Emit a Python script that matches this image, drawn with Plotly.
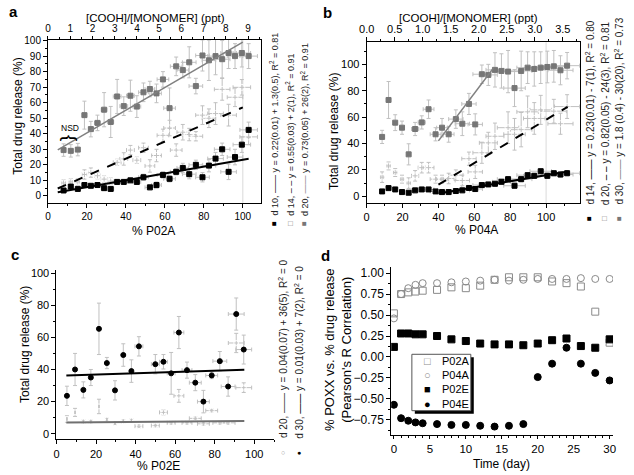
import plotly.graph_objects as go

W, H = 634, 475
FONT = "Liberation Sans, Arial, sans-serif"

# ---------------- Panel a data ----------------
a_x = [8, 11.7, 15.3, 18.7, 22, 25.4, 28.8, 32.2, 35.5, 38.9, 42.3, 45.6, 49, 52.3, 55.7,
       59, 62.4, 65.8, 69.2, 72.5, 75.9, 79.3, 82.6, 86, 89.4, 92.7, 96, 99.5, 103]
a_xerr = [1, 1, 1, 1.2, 1.2, 1.5, 1.5, 1.5, 2, 2, 2, 2, 2.5, 2.5, 2.5, 3, 3, 3, 3, 3.5,
          3.5, 3.5, 3.5, 4, 4, 4, 4, 4.5, 4.5]
a_d10 = [3.5, 6, 4.5, 7, 6.5, 7, 5, 4.5, 9, 9, 10, 9, 12, 5.5, 7, 13.5, 11, 15.5, 18, 14,
         20, 12, 19.5, 24, 30, 15.5, 25, 33, 42.5]
a_d10_err = [1, 1, 1, 1.5, 1, 1, 1.5, 1, 1.5, 1.5, 1.5, 1.5, 2, 1.5, 2, 2, 2, 2, 3, 3, 3,
             3, 4, 4, 4, 5, 5, 5, 5]
a_d14 = [8.3, 9, 9, 13.8, 15, 13, 10.8, 9.5, 21.6, 23.8, 29.5, 23, 31, 19.3, 26, 39, 43.7,
         29.5, 41, 39.5, 38.4, 52, 50, 53, 68.6, 52, 63.5, 69.9, 38]
a_d14_err = [2, 2, 2, 3, 3, 2, 2, 2, 2, 4, 3, 2, 3, 4, 4, 4, 5, 4, 5, 4, 3, 6, 6, 7, 7, 7,
             6, 5, 5]
a_d20 = [29.5, 29, 29.8, 52, 43, 47, 55.5, 47.6, 64, 57.8, 64.5, 57.5, 66.7, 68.8, 66, 75,
         56.5, 83.4, 81, 86, 70.7, 90.4, 87.3, 90, 88, 92, 90, 92, 90]
a_d20_err = [4, 4, 4, 9, 5, 5, 11, 10, 11, 6, 10, 7, 6, 5, 6, 5, 13, 6, 5, 10, 5, 10, 13,
             12, 12, 10, 8, 9, 8]
a_slope = [0.22, 0.55, 0.73]
a_icpt = [1.3, 2, 26]
a_fit_from = [5, 5, 5]
a_fit_to = [103, 100, 100]
a_labels = ["d 10, <span style='color:#000'>——</span> y = 0.22(0.01) + 1.3(0.5), R<sup>2</sup> = 0.81",
            "d 14, <span style='color:#000'>– –</span> y = 0.55(0.03) + 2(1), R<sup>2</sup> = 0.91",
            "d 20, <span style='color:#808080'>——</span> y = 0.73(0.05) + 26(2), R<sup>2</sup> = 0.91"]

# ---------------- Panel b data ----------------
b_x = [8.6, 12.2, 15.9, 19.7, 23.4, 27, 30.7, 34.5, 38.4, 42, 45.7, 49.7, 53.3, 57, 60.5,
       64.2, 67.8, 71.5, 75.1, 78.8, 82.4, 86.1, 89.7, 93.4, 97, 100.7, 104.3, 108, 111.7]
b_xerr = [1, 1, 1, 1, 1, 2, 2, 3, 3, 3, 3, 4, 4, 4, 4, 5, 5, 5, 5, 6, 6, 6, 6, 6, 6, 7, 7,
          7, 7]
b_d14 = [3.7, 6.2, 5.2, 3.2, 2.7, 4.5, 5.2, 5.2, 3.7, 3.2, 3.2, 4, 4.5, 6.3, 5.5, 8.5, 9,
         9.5, 11, 13, 8, 13, 16, 15.5, 19, 15.5, 17.5, 16.5, 17.5]
b_d14_err = [1, 1, 1, 1, 1, 1, 1, 1, 1, 1, 1, 1, 1, 1.5, 1.5, 1.5, 1.5, 2, 2, 2, 2, 2, 2, 2,
             2, 2, 2, 2, 2]
b_d20 = [14.5, 23, 18, 13, 10, 15.5, 21.7, 21.7, 13, 13, 13.5, 16, 12, 28.5, 18.5, 33, 40.5,
         45.5, None, 52, 47, 50.5, 64, 59, 65.5, None, 64.5, 55, 68]
b_d20_err = [4, 3, 3, 3, 4, 4, 4, 4, 3, 3, 4, 4, 4, 5, 5, 8, 8, 10, 0, 12, 12, 13, 12, 12,
             11, 0, 9, 8, 9]
b_d30 = [45, 73, 55.8, 52, 31.8, 51, 56, 66, 47, 52, 47, 58.5, 55, 70, 54.5, 92.5, 92, 95.8,
         95, 94.5, 82, 95, 97.5, 96.5, 97.5, 98, 98.5, 95.5, 99]
b_d30_err = [5, 14, 6, 5, 8, 5, 5, 7, 5, 7, 6, 7, 9, 8, 8, 7, 8, 13, 13, 16, 14, 15, 12, 13,
             12, 12, 12, 11, 10]
b_slope = [0.23, 0.82, 1.8]
b_icpt = [-7, -24, -30]
b_fit_from = [40, 40, 40]
b_fit_to = [112, 112, 71]
b_labels = ["d 14, <span style='color:#000'>——</span> y = 0.23(0.01) - 7(1), R<sup>2</sup> = 0.80",
            "d 20, <span style='color:#000'>– –</span> y = 0.82(0.05) - 24(3), R<sup>2</sup> = 0.81",
            "d 30, <span style='color:#808080'>——</span> y = 1.8 (0.4) - 30(20), R<sup>2</sup> = 0.73"]

# ---------------- Panel c data ----------------
c_x = [5.3, 9.4, 13.6, 17.4, 21.5, 25.5, 29.6, 33.8, 37.9, 41.7, 50, 54.1, 58, 61.9, 66,
       70.2, 74.3, 78.5, 82.6, 86.8, 90.9, 94.7]
c_xerr = [0, 0, 0, 0, 0, 0, 0, 0, 0, 2, 2, 2, 2, 2.5, 2.5, 3, 3, 3, 3.5, 3.5, 4, 4]
c_d20 = [9.2, 13.3, 7.6, 7.6, 17, 8.8, 6.6, 7.8, 8.2, 4.7, 5.1, 13.3, 6.8, 23.6, 6.8, 9.6,
         6.2, 14.4, 6.8, 6.8, 56.5, 28.7]
c_d20_err = [2, 2.5, 1, 1, 4.5, 1, 1, 1, 1, 1, 1, 1.5, 1, 4, 1, 1, 1, 1, 1, 1, 6, 3]
c_d30 = [23.6, 40, 27.3, 35, 65.3, 44, 27, 49, 39, 54.4, 43.3, 44.8, 37.6, 63, 39.6, 31.8,
         20, 36.3, 45.2, 29.4, 74.5, 52.4]
c_d30_err = [6, 10, 5, 5, 16, 3.5, 6, 7, 7, 6, 6, 4.5, 13, 10, 5, 5, 7, 2, 6, 6, 10, 9]
c_slope = [0.01, 0.04]
c_icpt = [7, 36]
c_fit_from = [5, 5]
c_fit_to = [95, 95]
c_labels = ["d 20, <span style='color:#333'>——</span> y = 0.04(0.07) + 36(5), R<sup>2</sup> = 0",
            "d 30, <span style='color:#000'>——</span> y = 0.01(0.03) + 7(2), R<sup>2</sup> = 0"]

# ---------------- Panel d data ----------------
d_days = [0, 1, 2, 3, 4, 6, 8, 10, 12, 14, 16, 18, 20, 22, 24, 26, 28, 30]
d_P02A = [0.52, 0.75, 0.77, 0.78, 0.79, 0.80, 0.83, 0.82, 0.85, 0.92, 0.95, 0.95, 0.95, 0.90,
          0.88, 0.84, 0.54, 0.17]
d_P04A = [0.46, 0.75, 0.82, 0.86, 0.88, 0.88, 0.89, 0.90, 0.91, 0.92, 0.91, 0.92, 0.93, 0.93,
          0.93, 0.94, 0.93, 0.93]
d_P02E = [0.12, 0.28, 0.28, 0.27, 0.27, 0.25, 0.21, 0.19, 0.16, 0.15, 0.15, 0.14, 0.16, 0.20,
          0.22, 0.13, 0.11, 0.21]
d_P04E = [-0.57, -0.73, -0.76, -0.78, -0.79, -0.80, -0.81, -0.81, -0.82, -0.83, -0.82, -0.80,
          -0.24, -0.08, 0.11, -0.08, -0.19, -0.28]
d_names = ["P02A", "P04A", "P02E", "P04E"]
d_glyphs = ["□", "○", "■", "●"]


def px(x):
    return x / W


def py(y):
    return 1 - y / H


GRAY_M = "#767676"
GRAY_E = "#c0c0c0"
GRAY_O = "#7a7a7a"

fig = go.Figure()


def add_series(x, y, ey, ex, xa, ya, symbol, color, lcolor, size, ecol=GRAY_E):
    fig.add_trace(go.Scatter(
        x=x, y=y, mode="markers", xaxis=xa, yaxis=ya, showlegend=False,
        marker=dict(symbol=symbol, size=size, color=color,
                    line=dict(color=lcolor, width=1)),
        error_y=dict(type="data", array=ey, color=ecol, thickness=1, width=2),
        error_x=dict(type="data", array=ex, color=ecol, thickness=1, width=2),
    ))


def add_fit(slope, icpt, x0, x1, xa, ya, color, width, dash):
    xs = [x0, x1]
    ys = [slope * v + icpt for v in xs]
    fig.add_trace(go.Scatter(x=xs, y=ys, mode="lines", xaxis=xa, yaxis=ya, showlegend=False,
                             line=dict(color=color, width=width, dash=dash)))


# Panel a
add_series(a_x, a_d20, a_d20_err, a_xerr, "x", "y", "square", GRAY_M, GRAY_M, 5)
add_series(a_x, a_d14, a_d14_err, a_xerr, "x", "y", "circle-open", "white", GRAY_O, 6)
add_series(a_x, a_d10, a_d10_err, a_xerr, "x", "y", "square", "black", "black", 5)
a_styles = [("black", 2, "solid"), ("black", 2, "dash"), ("#808080", 1.5, "solid")]
for i in range(3):
    c, w, d = a_styles[i]
    add_fit(a_slope[i], a_icpt[i], a_fit_from[i], a_fit_to[i], "x", "y", c, w, d)
fig.add_trace(go.Scatter(x=[], y=[], xaxis="x2", yaxis="y", showlegend=False))

# Panel b
add_series(b_x, b_d30, b_d30_err, b_xerr, "x3", "y2", "square", GRAY_M, GRAY_M, 5)
add_series(b_x, b_d20, b_d20_err, b_xerr, "x3", "y2", "circle-open", "white", GRAY_O, 6)
add_series(b_x, b_d14, b_d14_err, b_xerr, "x3", "y2", "square", "black", "black", 5)
b_styles = [("black", 2, "solid"), ("black", 2, "dash"), ("#808080", 1.5, "solid")]
for i in range(3):
    c, w, d = b_styles[i]
    add_fit(b_slope[i], b_icpt[i], b_fit_from[i], b_fit_to[i], "x3", "y2", c, w, d)
fig.add_trace(go.Scatter(x=[], y=[], xaxis="x4", yaxis="y2", showlegend=False))

# Panel c
add_series(c_x, c_d20, c_d20_err, c_xerr, "x5", "y3", "circle-open", "white", GRAY_O, 5)
add_series(c_x, c_d30, c_d30_err, c_xerr, "x5", "y3", "circle", "black", "black", 5)
c_styles = [("#707070", 2, "solid"), ("black", 2, "solid")]
for i in range(2):
    c, w, d = c_styles[i]
    add_fit(c_slope[i], c_icpt[i], c_fit_from[i], c_fit_to[i], "x5", "y3", c, w, d)

# Panel d
d_marks = [("square-open", "#8a8a8a"), ("circle-open", "#8a8a8a"),
           ("square", "black"), ("circle", "black")]
for name, yv, (sym, col) in zip(d_names, [d_P02A, d_P04A, d_P02E, d_P04E], d_marks):
    fig.add_trace(go.Scatter(x=d_days, y=yv, mode="markers", name=name, xaxis="x6",
                             yaxis="y4", showlegend=False,
                             marker=dict(symbol=sym, size=7, color=col,
                                         line=dict(color=col, width=1))))

ax = dict(showline=True, linecolor="black", linewidth=1, ticks="outside", ticklen=4,
          tickcolor="black", showgrid=False, zeroline=False,
          tickfont=dict(family=FONT, size=10, color="black"))


def axis(**kw):
    d = dict(ax)
    d.update(kw)
    return d


fig.update_layout(
    width=W, height=H, margin=dict(l=0, r=0, t=0, b=0),
    paper_bgcolor="white", plot_bgcolor="white",
    font=dict(family=FONT, color="black"),
    # panel a
    xaxis=axis(domain=[px(40.7), px(257)], range=[0, 109.1], anchor="y", dtick=20,
               minor=dict(dtick=10, ticklen=2, ticks="outside")),
    xaxis2=axis(domain=[px(40.7), px(257)], range=[0, 9.56], overlaying="x", anchor="y",
                side="top", dtick=1, ticklen=3,
                minor=dict(dtick=0.5, ticklen=2, ticks="outside")),
    yaxis=axis(domain=[py(200), py(35)], range=[-4.5, 100.6], anchor="x", dtick=10,
               mirror=True, minor=dict(dtick=5, ticklen=2, ticks="outside")),
    # panel b
    xaxis3=axis(domain=[px(365), px(582.3)], range=[0, 119], anchor="y2", dtick=20,
                tickfont=dict(family=FONT, size=11),
                minor=dict(dtick=10, ticklen=2, ticks="outside")),
    xaxis4=axis(domain=[px(365), px(582.3)], range=[0, 3.81], overlaying="x3", anchor="y2",
                side="top", dtick=0.5, tickformat=".1f", tickfont=dict(family=FONT, size=11),
                minor=dict(dtick=0.25, ticklen=2, ticks="outside")),
    yaxis2=axis(domain=[py(200), py(37.7)], range=[-5, 116.7], anchor="x3", dtick=20,
                mirror=True, tickfont=dict(family=FONT, size=11),
                minor=dict(dtick=10, ticklen=2, ticks="outside")),
    # panel c
    xaxis5=axis(domain=[px(49.3), px(270.7)], range=[0, 110], anchor="y3", dtick=20,
                tickfont=dict(family=FONT, size=11),
                minor=dict(dtick=10, ticklen=2, ticks="outside")),
    yaxis3=axis(domain=[py(439), py(268)], range=[-3.5, 101.8], anchor="x5", dtick=20,
                tickfont=dict(family=FONT, size=11),
                minor=dict(dtick=10, ticklen=2, ticks="outside")),
    # panel d
    xaxis6=axis(domain=[px(390), px(615.7)], range=[-0.37, 30.47], anchor="y4", dtick=5,
                ticklen=3, tickfont=dict(family=FONT, size=11.5),
                minor=dict(dtick=1, ticklen=2, ticks="outside")),
    yaxis4=axis(domain=[py(434.3), py(265)], range=[-0.927, 1.07], anchor="x6",
                tick0=-0.75, dtick=0.25, tickformat=".2f",
                tickfont=dict(family=FONT, size=12),
                minor=dict(dtick=0.125, ticklen=2, ticks="outside")),
)

shapes = []
for xa, ya in [("x", "y"), ("x3", "y2")]:
    shapes.append(dict(type="line", xref=xa, x0=100, x1=100, yref=ya + " domain",
                       y0=0, y1=1, line=dict(color="#dadada", width=1), layer="below"))
# legend box of panel d (shadow + box)
shapes.append(dict(type="rect", xref="paper", yref="paper", x0=px(414), x1=px(474),
                   y0=py(413), y1=py(356), fillcolor="black", line=dict(width=0)))
shapes.append(dict(type="rect", xref="paper", yref="paper", x0=px(411), x1=px(471),
                   y0=py(410), y1=py(353), fillcolor="white", line=dict(color="#555", width=1)))
fig.update_layout(shapes=shapes)

ann = []


def text(x, y, s, size, angle=0, xanchor="center", yanchor="middle", color="black", bold=False):
    if bold:
        s = "<b>" + s + "</b>"
    ann.append(dict(x=px(x), y=py(y), xref="paper", yref="paper", text=s, showarrow=False,
                    textangle=angle, xanchor=xanchor, yanchor=yanchor,
                    font=dict(family=FONT, size=size, color=color)))


# panel letters
text(6, 7, "a", 15, bold=True)
text(325, 8, "b", 15, bold=True)
text(7, 252, "c", 15, bold=True)
text(323, 253, "d", 15, bold=True)

# axis titles
text(150, 13, "[COOH]/[MONOMER] (ppt)", 11.5)
text(148, 228, "% P02A", 12)
text(10, 112, "Total drug release (%)", 12, angle=-90)
text(469, 13, "[COOH]/[MONOMER] (ppt)", 11.5)
text(477, 227, "% P04A", 12)
text(331, 128, "Total drug release (%)", 12, angle=-90)
text(153, 466, "% P02E", 12)
text(18, 343, "Total drug release (%)", 12, angle=-90)
text(502, 464, "Time (day)", 12)
text(336.5, 348, "% POXX vs. % drug release<br>(Pearson's R Correlation)", 13, angle=-90)

# NSD annotation in panel a
ann.append(dict(x=11.3, y=43.8, xref="x", yref="y", text="NSD", showarrow=False,
                font=dict(family=FONT, size=8.5)))
ann.append(dict(x=11.5, y=37, xref="x", yref="y", text="{", showarrow=False, textangle=90,
                font=dict(family=FONT, size=19)))

# rotated fit labels
a_marks = [("■", "black"), ("□", "#777"), ("■", "#777")]
for i, xx in enumerate([271, 287, 302]):
    text(xx, 215, a_labels[i], 9, angle=-90, yanchor="bottom", color="#222")
    text(xx, 221, a_marks[i][0], 8, color=a_marks[i][1])
b_marks = [("■", "black"), ("□", "#777"), ("■", "#777")]
for i, xx in enumerate([592, 607, 622]):
    text(xx, 204, b_labels[i], 10, angle=-90, yanchor="bottom", color="#222")
    text(xx, 216, b_marks[i][0], 8, color=b_marks[i][1])
c_marks = [("○", "#999"), ("●", "black")]
for i, xx in enumerate([280, 296]):
    text(xx, 440, c_labels[i], 10, angle=-90, yanchor="bottom", color="#222")
    text(xx, 452, c_marks[i][0], 7, color=c_marks[i][1])

# panel d legend entries
leg_y = [359.3, 374.3, 388.3, 403.3]
leg_col = ["#8a8a8a", "#8a8a8a", "black", "black"]
for i in range(4):
    text(426.7, leg_y[i], d_glyphs[i], 11, color=leg_col[i])
    text(440, leg_y[i], d_names[i], 11, xanchor="left")

fig.update_layout(annotations=ann)
fig.write_html("out.html", config={"displayModeBar": False},
               post_script="document.body.style.margin='0';document.body.style.padding='0';")
